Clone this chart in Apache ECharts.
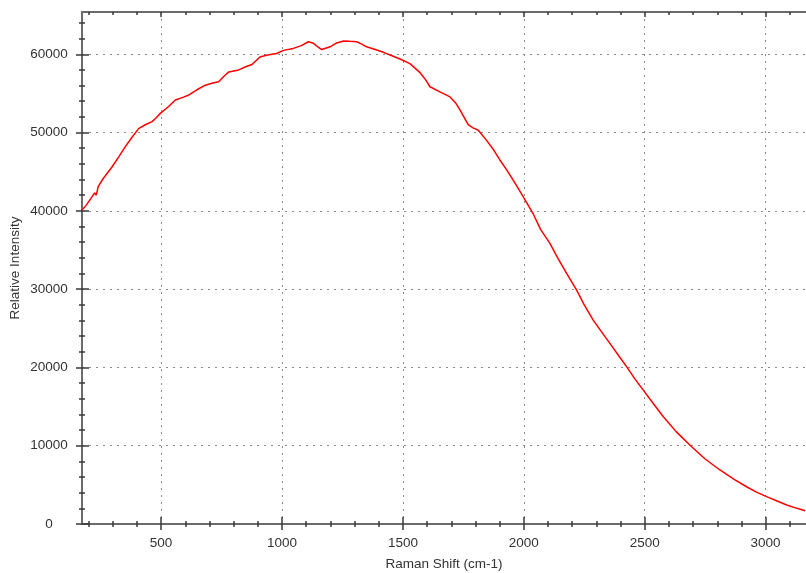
<!DOCTYPE html>
<html>
<head>
<meta charset="utf-8">
<script src="https://cdn.jsdelivr.net/npm/echarts@6/dist/echarts.min.js"></script>
<style>
  html, body { margin: 0; padding: 0; background: #fff; }
  #main { width: 806px; height: 573px; }
</style>
</head>
<body>
<div id="main"></div>
<script>
// Raman shift (cm-1)
var shift = [173, 190, 210, 225, 232, 240, 260, 297, 325, 352, 380, 407, 435, 463, 480, 497,
  530, 559, 590, 615, 650, 683, 710, 738, 760, 780, 821, 850, 876, 909, 940, 978, 1006,
  1047, 1080, 1109, 1130, 1150, 1164, 1199, 1226, 1255, 1281, 1309, 1330, 1350, 1392,
  1420, 1447, 1488, 1529, 1571, 1595, 1612, 1653, 1695, 1720, 1736, 1770, 1790, 1812,
  1846, 1875, 1901, 1930, 1956, 1980, 2005, 2039, 2070, 2108, 2140, 2177, 2218, 2250,
  2287, 2320, 2356, 2397, 2425, 2460, 2494, 2540, 2577, 2630, 2694, 2750, 2811, 2870,
  2921, 2960, 3004, 3050, 3087, 3130, 3163];
// relative intensity for each shift
var intensity = [40100, 40700, 41600, 42300, 42000, 43100, 44100, 45600, 46900, 48200, 49400,
  50500, 51000, 51400, 51900, 52450, 53300, 54150, 54500, 54800, 55500, 56050, 56300, 56500,
  57200, 57750, 58000, 58400, 58700, 59650, 59900, 60100, 60500, 60750, 61100, 61600, 61400,
  60900, 60600, 60950, 61450, 61700, 61650, 61600, 61300, 60950, 60550, 60250, 59900, 59400,
  58800, 57650, 56700, 55850, 55200, 54550, 53700, 52900, 51000, 50600, 50300, 49000, 47800,
  46500, 45200, 43930, 42700, 41400, 39600, 37600, 35850, 34000, 32000, 29900, 28000, 26050,
  24600, 23070, 21300, 20100, 18500, 17100, 15200, 13700, 11800, 9870, 8300, 6900, 5700,
  4760, 4100, 3490, 2900, 2430, 2000, 1700];

var xMajor = [500, 1000, 1500, 2000, 2500, 3000];
var xMinor = [200, 300, 400, 600, 700, 800, 900, 1100, 1200, 1300, 1400, 1600, 1700, 1800,
  1900, 2100, 2200, 2300, 2400, 2600, 2700, 2800, 2900, 3100];
var yMajor = [0, 10000, 20000, 30000, 40000, 50000, 60000];
var yMinor = [2000, 4000, 6000, 8000, 12000, 14000, 16000, 18000, 22000, 24000, 26000, 28000,
  32000, 34000, 36000, 38000, 42000, 44000, 46000, 48000, 52000, 54000, 56000, 58000, 62000, 64000];

var xMin = 173, xMax = 3167, yMin = 0, yMax = 65400;
var axisGrey = '#6b6b6b', tickDark = '#3a3a3a';
var txt = { fontFamily: 'Liberation Sans', fontSize: 13.5, color: '#333' };

var points = shift.map(function (s, i) { return [s, intensity[i]]; });

// extra axes that only draw ticks, so ticks cross the axis line like in the picture
function tickAxis(kind, pos, values, offset, len) {
  return {
    type: 'value', position: pos, min: kind === 'x' ? xMin : yMin, max: kind === 'x' ? xMax : yMax,
    offset: offset,
    axisLine: { show: false, onZero: false },
    axisTick: { show: true, inside: false, length: len, customValues: values,
      lineStyle: { color: tickDark, width: 1.5 } },
    axisLabel: { show: false },
    splitLine: { show: false }
  };
}

function plain(v) { return String(v); }

var chart = echarts.init(document.getElementById('main'));
var option = {
  animation: false,
  backgroundColor: '#fff',
  grid: { left: 82, top: 12, right: 0, bottom: 49, containLabel: false, outerBoundsMode: 'none' },
  xAxis: [
    {
      type: 'value', position: 'bottom', min: xMin, max: xMax,
      name: 'Raman Shift (cm-1)', nameLocation: 'middle', nameGap: 33,
      nameTextStyle: txt,
      axisLine: { show: true, onZero: false, lineStyle: { color: axisGrey, width: 2 } },
      axisTick: { show: false, customValues: xMajor },
      axisLabel: Object.assign({ customValues: xMajor, formatter: plain, margin: 12 }, txt),
      splitLine: { show: true, lineStyle: { color: '#8a8a8a', type: [2, 5], width: 1 } }
    },
    tickAxis('x', 'bottom', xMajor, -7, 13),
    tickAxis('x', 'bottom', xMinor, -3, 6),
    {
      type: 'value', position: 'top', min: xMin, max: xMax,
      axisLine: { show: true, onZero: false, lineStyle: { color: axisGrey, width: 2 } },
      axisTick: { show: true, inside: true, length: 5, customValues: xMajor,
        lineStyle: { color: tickDark, width: 1.5 } },
      axisLabel: { show: false }, splitLine: { show: false }
    },
    {
      type: 'value', position: 'top', min: xMin, max: xMax,
      axisLine: { show: false, onZero: false },
      axisTick: { show: true, inside: true, length: 3, customValues: xMinor,
        lineStyle: { color: tickDark, width: 1.5 } },
      axisLabel: { show: false }, splitLine: { show: false }
    }
  ],
  yAxis: [
    {
      type: 'value', position: 'left', min: yMin, max: yMax,
      name: 'Relative Intensity', nameLocation: 'middle', nameGap: 60, nameMoveOverlap: false,
      nameTextStyle: txt,
      axisLine: { show: true, onZero: false, lineStyle: { color: axisGrey, width: 2 } },
      axisTick: { show: false, customValues: yMajor },
      // labels in the picture are centred on one column
      axisLabel: Object.assign({ customValues: yMajor, formatter: plain, margin: 33, align: 'center' }, txt),
      splitLine: { show: true, lineStyle: { color: '#8a8a8a', type: [2, 5], width: 1 } }
    },
    tickAxis('y', 'left', yMajor, -7, 13),
    tickAxis('y', 'left', yMinor, -3, 6)
  ],
  series: [{
    type: 'line',
    xAxisIndex: 0,
    yAxisIndex: 0,
    data: points,
    showSymbol: false,
    symbol: 'none',
    lineStyle: { color: '#ff0000', width: 1.5 },
    z: 5
  }]
};
chart.setOption(option);
</script>
</body>
</html>
